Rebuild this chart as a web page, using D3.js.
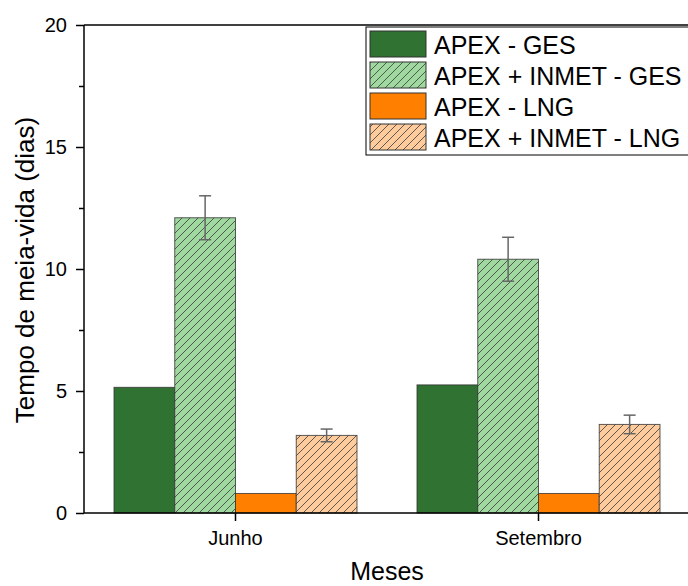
<!DOCTYPE html>
<html>
<head>
<meta charset="utf-8">
<script src="https://cdn.jsdelivr.net/npm/d3@7"></script>
<style>
  html, body { margin: 0; padding: 0; background: #fff; overflow: hidden; }
  svg { display: block; }
  svg text { font-family: Arial, "Liberation Sans", sans-serif; }
</style>
</head>
<body>
<div id="chart"></div>
<script>
// Half-life per month for each model configuration
const months = ["Junho", "Setembro"];
const seriesNames = ["APEX - GES", "APEX + INMET - GES", "APEX - LNG", "APEX + INMET - LNG"];
const apexGes = [5.15, 5.25];
const apexInmetGes = [12.1, 10.4];
const apexLng = [0.8, 0.8];
const apexInmetLng = [3.18, 3.63];
const errApexInmetGes = [0.9, 0.9];
const errApexInmetLng = [0.26, 0.38];
const yTicks = [0, 5, 10, 15, 20];

const seriesValues = [apexGes, apexInmetGes, apexLng, apexInmetLng];
const seriesErrors = [null, errApexInmetGes, null, errApexInmetLng];
const fills = ["#2f7231", "#a0d9a0", "#ff8000", "#fecb9c"];
const hatched = [false, true, false, true];

const W = 688, H = 586;
const plotLeft = 84, plotTop = 25, plotBottom = 513, plotRight = 690;
const FONT = "Arial, 'Liberation Sans', sans-serif";

const svg = d3.select("#chart").append("svg")
  .attr("width", W).attr("height", H);

// diagonal hatch patterns
const defs = svg.append("defs");
fills.forEach((c, i) => {
  if (!hatched[i]) return;
  const p = defs.append("pattern")
    .attr("id", "hatch" + i)
    .attr("patternUnits", "userSpaceOnUse")
    .attr("width", 8).attr("height", 8);
  p.append("rect").attr("width", 8).attr("height", 8).attr("fill", c);
  p.append("path")
    .attr("d", "M-2,2 L2,-2 M0,8 L8,0 M6,10 L10,6")
    .attr("stroke", "#3a3a3a").attr("stroke-width", 0.8);
});

const x = d3.scaleBand().domain(months).range([plotLeft, plotRight]).padding(0);
const groupW = 243;
const xs = d3.scaleBand().domain(d3.range(seriesNames.length)).range([0, groupW]).padding(0);
const y = d3.scaleLinear().domain([0, 20]).range([plotBottom, plotTop]);

const data = [];
months.forEach((m, mi) => {
  seriesValues.forEach((vals, si) => {
    data.push({ m, si, v: vals[mi], e: seriesErrors[si] ? seriesErrors[si][mi] : null });
  });
});

const barX = d => x(d.m) + (x.bandwidth() - groupW) / 2 + xs(d.si);

svg.append("g").selectAll("rect").data(data).join("rect")
  .attr("x", barX)
  .attr("y", d => y(d.v))
  .attr("width", xs.bandwidth())
  .attr("height", d => y(0) - y(d.v))
  .attr("fill", d => hatched[d.si] ? "url(#hatch" + d.si + ")" : fills[d.si])
  .attr("stroke", "#333")
  .attr("stroke-opacity", 0.8)
  .attr("stroke-width", 1);

// error bars
const eb = svg.append("g").attr("stroke", "#666").attr("stroke-width", 1.5);
data.filter(d => d.e != null).forEach(d => {
  const cx = barX(d) + xs.bandwidth() / 2;
  eb.append("line").attr("x1", cx).attr("x2", cx).attr("y1", y(d.v + d.e)).attr("y2", y(d.v - d.e));
  [d.v + d.e, d.v - d.e].forEach(v => {
    eb.append("line").attr("x1", cx - 6).attr("x2", cx + 6).attr("y1", y(v)).attr("y2", y(v));
  });
});

// y axis with minor ticks
const yAxis = svg.append("g").attr("transform", `translate(${plotLeft},0)`)
  .call(d3.axisLeft(y).tickValues(yTicks).tickSize(8).tickPadding(9).tickFormat(d3.format("d")));
yAxis.attr("font-family", FONT);
yAxis.selectAll("text").attr("font-size", 20).attr("fill", "#000");
yAxis.select(".domain").attr("stroke-width", 1.5).attr("d", `M0,${plotBottom}V${plotTop}`);
yAxis.selectAll(".tick line").attr("stroke-width", 1.5);
svg.append("g").attr("transform", `translate(${plotLeft},0)`)
  .call(d3.axisLeft(y).tickValues([2.5, 7.5, 12.5, 17.5]).tickSize(5).tickFormat(""))
  .call(g => g.select(".domain").remove())
  .selectAll("line").attr("stroke-width", 1.5);

// top frame line
svg.append("line").attr("x1", plotLeft).attr("x2", plotRight).attr("y1", plotTop).attr("y2", plotTop)
  .attr("stroke", "#000").attr("stroke-width", 1.5);

// x axis
const xAxis = svg.append("g").attr("transform", `translate(0,${plotBottom})`)
  .call(d3.axisBottom(x).tickSize(8).tickPadding(10));
xAxis.attr("font-family", FONT);
xAxis.select(".domain").attr("stroke-width", 1.5).attr("d", `M${plotLeft},0H${plotRight}`);
xAxis.selectAll(".tick line").attr("stroke-width", 1.5);
xAxis.selectAll("text").attr("font-size", 20).attr("fill", "#000");

// axis titles
svg.append("text").attr("x", 387).attr("y", 580).attr("text-anchor", "middle")
  .attr("font-size", 25).text("Meses");
svg.append("text").attr("transform", `translate(34,270) rotate(-90)`)
  .attr("text-anchor", "middle").attr("font-size", 26).text("Tempo de meia-vida (dias)");

// legend
const lg = svg.append("g").attr("transform", "translate(366,27)");
lg.append("rect").attr("width", 330).attr("height", 128)
  .attr("fill", "#fff").attr("stroke", "#000").attr("stroke-width", 1);
seriesNames.forEach((name, i) => {
  const gy = 4 + i * 31;
  lg.append("rect").attr("x", 4).attr("y", gy).attr("width", 56).attr("height", 26)
    .attr("fill", hatched[i] ? "url(#hatch" + i + ")" : fills[i])
    .attr("stroke", "#333").attr("stroke-width", 1);
  lg.append("text").attr("x", 68).attr("y", gy + 23).attr("font-size", 25).text(name);
});
</script>
</body>
</html>
